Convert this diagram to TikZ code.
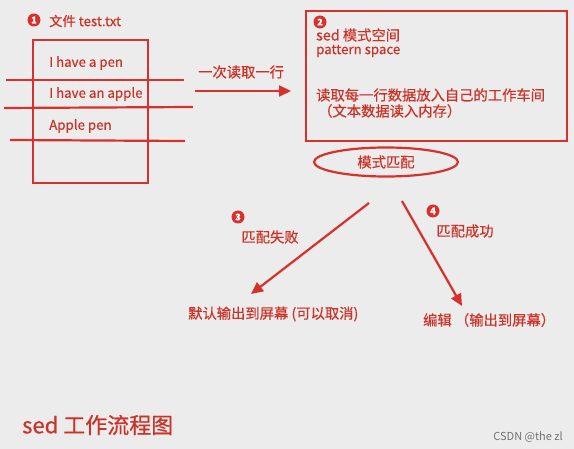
\documentclass[tikz,border=0pt]{standalone}
\usepackage{fontspec}
\setmainfont[FakeBold=0.6]{Noto Sans CJK SC}
\newfontfamily\plainf{Noto Sans CJK SC}
\usetikzlibrary{arrows.meta,shapes.geometric}
\definecolor{bg}{HTML}{ECECEC}
\definecolor{rd}{HTML}{D8302A}
\definecolor{rt}{HTML}{CC3328}
\begin{document}
\begin{tikzpicture}[x=1pt,y=-1pt,
  ln/.style={draw=rd,line width=2.2pt},
  txt/.style={text=rt,font=\fontsize{14.3}{16}\selectfont,inner sep=0pt},
  stxt/.style={text=rt,font=\fontsize{13.3}{15}\selectfont,inner sep=0pt},
  num/.style={circle,fill=rd,text=white,inner sep=0pt,minimum size=13pt,font=\fontsize{9}{9}\selectfont\bfseries},
  arr/.style={draw=rd,line width=2.2pt,-{Triangle[length=12pt,width=11pt]}}]
\fill[bg] (0,0) rectangle (574,449);
\useasboundingbox (0,0) rectangle (574,449);
% left file box
\node[num] (n1) at (34,20) {1};
\node[stxt,anchor=west] (f1) at (49,21) {文件 test.txt};
\draw[ln] (33,40) rectangle (148,183);
\coordinate (l1a) at (6,80); \coordinate (l1b) at (184,80);
\coordinate (l2a) at (4,108); \coordinate (l2b) at (193,107);
\coordinate (l3a) at (10,140); \coordinate (l3b) at (185,141);
\draw[ln] (l1a) -- (l1b);
\draw[ln] (l2a) -- (l2b);
\draw[ln] (l3a) -- (l3b);
\node[stxt,anchor=west] (t1) at (49,63) {I have a pen};
\node[stxt,anchor=west] (t2) at (49,94) {I have an apple};
\node[stxt,anchor=west] (t3) at (49,126) {Apple pen};
% read arrow
\node[txt,anchor=west] (rd1) at (198,72) {一次读取一行};
\coordinate (ra) at (195,91); \coordinate (rb) at (291,91);
\draw[arr] (ra) -- (rb);
% pattern space box
\draw[ln] (306,11) rectangle (567,141);
\node[num] (n2) at (320,22) {2};
\node[txt,anchor=west] (p1) at (316,35) {sed 模式空间};
\node[stxt,anchor=west] (p2) at (316,51) {pattern space};
\node[txt,anchor=west] (p3) at (316,95) {读取每一行数据放入自己的工作车间};
\node[txt,anchor=west] (p4) at (318,111) {（文本数据读入内存）};
% ellipse
\node[ellipse,draw=rd,line width=2.2pt,minimum width=144pt,minimum height=29pt,txt] (m) at (386,162) {模式匹配};
% branches
\coordinate (a1) at (369,203); \coordinate (b1) at (251,294);
\coordinate (a2) at (402,201); \coordinate (b2) at (462,306);
\draw[arr] (a1) -- (b1);
\draw[arr] (a2) -- (b2);
\node[num] (n3) at (238,217) {3};
\node[txt] (f3) at (270,237) {匹配失败};
\node[num] (n4) at (433,211) {4};
\node[txt] (f4) at (465,231) {匹配成功};
\node[txt,anchor=west] (o1) at (188,314) {默认输出到屏幕 (可以取消)};
\node[txt,anchor=west] (o2) at (423,320) {编辑 （输出到屏幕）};
% title
\node[txt,anchor=west,font=\fontsize{22}{24}\selectfont] (title) at (22,425) {sed 工作流程图};
\node[anchor=east,inner sep=0pt,text=black!55,font=\plainf\fontsize{11}{12}\selectfont] (csdn) at (563,437) {CSDN @the zl};
\end{tikzpicture}
\end{document}
